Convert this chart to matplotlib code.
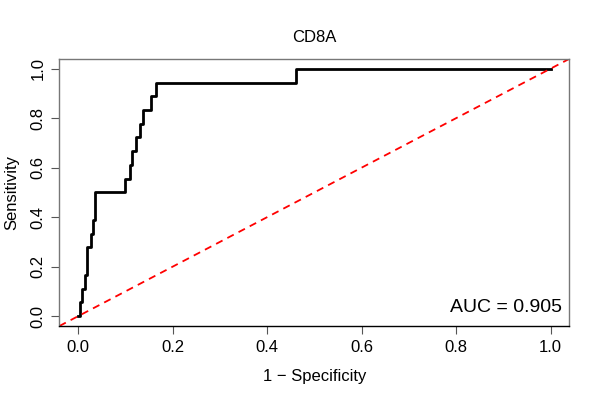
import matplotlib
matplotlib.use("Agg")
import matplotlib.pyplot as plt

plt.rcParams['font.family'] = ['Liberation Sans', 'DejaVu Sans']

# ROC curve points for CD8A (1 - specificity, sensitivity)
fpr = [0.0, 0.003, 0.003, 0.008, 0.008, 0.0146, 0.0146, 0.018, 0.018, 0.019, 0.019,
       0.026, 0.026, 0.031, 0.031, 0.036, 0.036, 0.0996, 0.0996, 0.1085, 0.1085,
       0.113, 0.113, 0.122, 0.122, 0.130, 0.130, 0.138, 0.138, 0.155, 0.155,
       0.165, 0.165, 0.462, 0.462, 1.0]
tpr = [0.0, 0.0, 0.056, 0.056, 0.111, 0.111, 0.167, 0.167, 0.222, 0.222, 0.278,
       0.278, 0.333, 0.333, 0.389, 0.389, 0.5, 0.5, 0.556, 0.556, 0.611,
       0.611, 0.667, 0.667, 0.722, 0.722, 0.778, 0.778, 0.833, 0.833, 0.889,
       0.889, 0.944, 0.944, 1.0, 1.0]
auc = 0.905
ticks = [0.0, 0.2, 0.4, 0.6, 0.8, 1.0]

fig = plt.figure(figsize=(6, 4), dpi=100)
ax = fig.add_axes([0.099, 0.185, 0.850, 0.668])

ax.plot(fpr, tpr, color='black', lw=2)
ax.plot([-0.04, 1.04], [-0.04, 1.04], color='red', ls=(0, (4, 3)), lw=1.3)

ax.set_xlim(-0.04, 1.04)
ax.set_ylim(-0.04, 1.04)
ax.set_xticks(ticks)
ax.set_yticks(ticks)
ax.set_xticklabels(['%.1f' % t for t in ticks])
ax.set_yticklabels(['%.1f' % t for t in ticks], rotation=90, va='center')
ax.tick_params(labelsize=12, length=6, color='#555555', pad=4)

for s in ax.spines.values():
    s.set_color('#777777')
    s.set_linewidth(1)
ax.spines['bottom'].set_color('black')

ax.set_title('CD8A', fontsize=12, pad=12)
ax.set_xlabel('1 \u2212 Specificity', fontsize=12, labelpad=10)
ax.set_ylabel('Sensitivity', fontsize=12, labelpad=8)
# AUC label sits in the lower right corner, in data coordinates
ax.text(1.025, 0.016, 'AUC = %.3f' % auc, ha='right', va='baseline', fontsize=14)

plt.savefig('out.png')
